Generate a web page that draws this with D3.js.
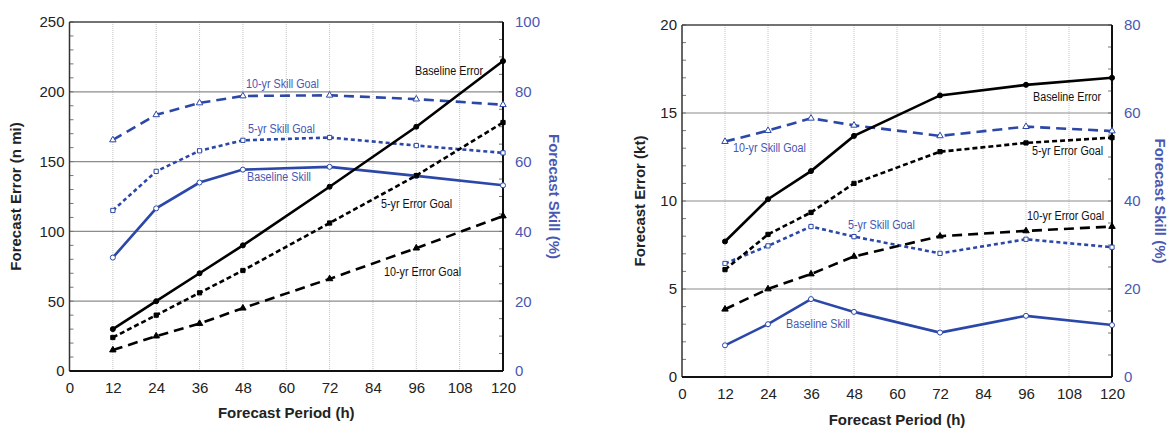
<!DOCTYPE html>
<html>
<head>
<meta charset="utf-8">
<script src="https://cdn.jsdelivr.net/npm/d3@7"></script>
<style>
  body { margin: 0; background: #fff; }
  text { font-family: Arial, "Liberation Sans", sans-serif; }
  .lbl { font-size: 12.5px; }
</style>
</head>
<body>
<svg id="chart" width="1169" height="428"></svg>
<script>
"use strict";
// forecast hours
const hours = [12, 24, 36, 48, 72, 96, 120];
const xTicks = [0, 12, 24, 36, 48, 60, 72, 84, 96, 108, 120];

// track (n mi) - left panel
const trkBaseErr = [30, 50, 70, 90, 132, 175, 222];
const trkErr5 = [24, 40, 56, 72, 106, 140, 178];
const trkErr10 = [15, 25, 34, 45, 66, 88, 111];
const trkBaseSkill = [32.5, 46.6, 54, 57.7, 58.5, 55.9, 53.2];
const trkSkill5 = [46, 57.2, 63.1, 66.1, 66.9, 64.6, 62.5];
const trkSkill10 = [66.2, 73.4, 76.8, 78.8, 79, 77.9, 76.3];

// intensity (kt) - right panel
const intBaseErr = [7.7, 10.1, 11.7, 13.7, 16.0, 16.6, 17.0];
const intErr5 = [6.1, 8.1, 9.35, 11.0, 12.8, 13.3, 13.6];
const intErr10 = [3.85, 5.0, 5.85, 6.85, 8.0, 8.3, 8.55];
const intBaseSkill = [7.2, 12.0, 17.7, 14.8, 10.1, 13.9, 11.8];
const intSkill5 = [25.8, 29.8, 34.2, 31.9, 28.1, 31.3, 29.5];
const intSkill10 = [53.5, 56.0, 58.8, 57.2, 54.8, 56.9, 55.9];

const BLUE = "#2b47a8";
const BLUE_TXT = "#4a57b3";
const svg = d3.select("#chart");

function panel(o) {
  const x = d3.scaleLinear().domain([0, 120]).range([o.x0, o.x1]);
  const yL = d3.scaleLinear().domain([0, o.maxL]).range([o.y1, o.y0]);
  const yR = d3.scaleLinear().domain([0, o.maxR]).range([o.y1, o.y0]);
  const g = svg.append("g");

  // vertical dotted grid
  g.selectAll(".vg").data(xTicks.slice(1, -1)).enter().append("line")
    .attr("x1", d => x(d)).attr("x2", d => x(d))
    .attr("y1", o.y0).attr("y2", o.y1)
    .attr("stroke", "#c4c4c4").attr("stroke-width", 1).attr("stroke-dasharray", "1,1");
  // horizontal grid
  g.selectAll(".hg").data(o.gridL).enter().append("line")
    .attr("x1", o.x0).attr("x2", o.x1)
    .attr("y1", d => yL(d)).attr("y2", d => yL(d))
    .attr("stroke", "#8c8c8c").attr("stroke-width", 1.2);

  // axes
  const axL = d3.axisLeft(yL).tickValues(o.ticksL).tickSize(0).tickPadding(5);
  const gl = g.append("g").attr("transform", `translate(${o.x0},0)`).call(axL);
  const axR = d3.axisRight(yR).tickValues(o.ticksR).tickSize(0).tickPadding(12);
  const gr = g.append("g").attr("transform", `translate(${o.x1},0)`).call(axR);
  const axB = d3.axisBottom(x).tickValues(xTicks).tickSize(0).tickPadding(11);
  const gb = g.append("g").attr("transform", `translate(0,${o.y1})`).call(axB);
  [gl, gr, gb].forEach(a => {
    a.select(".domain").remove();
    a.selectAll("text").attr("font-size", 15).attr("fill", "#222")
      .style("font-family", "Arial, 'Liberation Sans', sans-serif");
  });
  gr.selectAll("text").attr("fill", BLUE_TXT);

  // minor inside ticks
  g.selectAll(".ml").data(d3.range(0, o.maxL + 0.001, o.minorL)).enter().append("line")
    .attr("x1", o.x0).attr("x2", o.x0 + 4)
    .attr("y1", d => yL(d)).attr("y2", d => yL(d)).attr("stroke", "#777");
  g.selectAll(".mr").data(d3.range(0, o.maxR + 0.001, o.minorR)).enter().append("line")
    .attr("x1", o.x1).attr("x2", o.x1 - 4)
    .attr("y1", d => yR(d)).attr("y2", d => yR(d)).attr("stroke", "#777");

  // frame
  g.append("line").attr("x1", o.x0).attr("x2", o.x1).attr("y1", o.y0).attr("y2", o.y0)
    .attr("stroke", "#444").attr("stroke-width", 1.3);
  g.append("line").attr("x1", o.x0).attr("x2", o.x0).attr("y1", o.y0).attr("y2", o.y1)
    .attr("stroke", "#333").attr("stroke-width", 1.5);
  g.append("line").attr("x1", o.x0).attr("x2", o.x1).attr("y1", o.y1).attr("y2", o.y1)
    .attr("stroke", "#111").attr("stroke-width", 2);
  g.append("line").attr("x1", o.x1).attr("x2", o.x1).attr("y1", o.y0).attr("y2", o.y1)
    .attr("stroke", "#111").attr("stroke-width", 2);

  // series
  const series = [
    { v: o.skill10, y: yR, c: BLUE, dash: "10,6", m: "tri", fill: "#fff" },
    { v: o.skill5, y: yR, c: BLUE, dash: "4,3", m: "sq", fill: "#fff" },
    { v: o.baseSkill, y: yR, c: BLUE, dash: null, m: "circ", fill: "#fff" },
    { v: o.err10, y: yL, c: "#000", dash: "10,6", m: "tri", fill: "#000" },
    { v: o.err5, y: yL, c: "#000", dash: "5,3", m: "sq", fill: "#000" },
    { v: o.baseErr, y: yL, c: "#000", dash: null, m: "circ", fill: "#000" }
  ];
  series.forEach(s => {
    const line = d3.line().x((d, i) => x(hours[i])).y(d => s.y(d));
    g.append("path").datum(s.v).attr("d", line)
      .attr("fill", "none").attr("stroke", s.c).attr("stroke-width", 2.6)
      .attr("stroke-dasharray", s.dash);
    const sym = s.m === "tri" ? d3.symbolTriangle : s.m === "sq" ? d3.symbolSquare : d3.symbolCircle;
    g.selectAll(null).data(s.v).enter().append("path")
      .attr("d", d3.symbol().type(sym).size(s.m === "circ" ? 20 : 18))
      .attr("transform", (d, i) => `translate(${x(hours[i])},${s.y(d)})`)
      .attr("fill", s.fill).attr("stroke", s.c).attr("stroke-width", 1);
  });

  // series labels (condensed look)
  o.labels.forEach(l => {
    const t = g.append("text").attr("class", "lbl").attr("x", l.x).attr("y", l.y)
      .attr("fill", l.blue ? BLUE_TXT : "#111").text(l.t);
    const w = t.node().getComputedTextLength();
    t.attr("textLength", w * 0.86).attr("lengthAdjust", "spacingAndGlyphs");
  });

  // titles
  g.append("text").attr("transform", `translate(${o.tl},${(o.y0 + o.y1) / 2}) rotate(-90)`)
    .attr("text-anchor", "middle").attr("font-weight", "bold").attr("font-size", 15)
    .attr("fill", "#222").text(o.titleL);
  g.append("text").attr("transform", `translate(${o.tr},${(o.y0 + o.y1) / 2}) rotate(90)`)
    .attr("text-anchor", "middle").attr("font-weight", "bold").attr("font-size", 15)
    .attr("fill", BLUE_TXT).text("Forecast Skill (%)");
  g.append("text").attr("x", (o.x0 + o.x1) / 2).attr("y", o.tb)
    .attr("text-anchor", "middle").attr("font-weight", "bold").attr("font-size", 15)
    .attr("fill", "#222").text("Forecast Period (h)");
}

panel({
  x0: 69.5, x1: 503, y0: 22, y1: 371, maxL: 250, maxR: 100,
  ticksL: [0, 50, 100, 150, 200, 250], ticksR: [0, 20, 40, 60, 80, 100],
  gridL: [50, 100, 150, 200], minorL: 10, minorR: 5,
  baseErr: trkBaseErr, err5: trkErr5, err10: trkErr10,
  baseSkill: trkBaseSkill, skill5: trkSkill5, skill10: trkSkill10,
  titleL: "Forecast Error (n mi)", tl: 21, tr: 549, tb: 418,
  labels: [
    { t: "Baseline Error", x: 415, y: 75 },
    { t: "10-yr Skill Goal", x: 246, y: 88, blue: true },
    { t: "5-yr Skill Goal", x: 248, y: 133, blue: true },
    { t: "Baseline Skill", x: 247, y: 181, blue: true },
    { t: "5-yr Error Goal", x: 381, y: 208 },
    { t: "10-yr Error Goal", x: 384, y: 276 }
  ]
});

panel({
  x0: 682, x1: 1112, y0: 25, y1: 377, maxL: 20, maxR: 80,
  ticksL: [0, 5, 10, 15, 20], ticksR: [0, 20, 40, 60, 80],
  gridL: [5, 10, 15], minorL: 1, minorR: 5,
  baseErr: intBaseErr, err5: intErr5, err10: intErr10,
  baseSkill: intBaseSkill, skill5: intSkill5, skill10: intSkill10,
  titleL: "Forecast Error (kt)", tl: 645, tr: 1155, tb: 425,
  labels: [
    { t: "Baseline Error", x: 1033, y: 101 },
    { t: "10-yr Skill Goal", x: 733, y: 152, blue: true },
    { t: "5-yr Error Goal", x: 1032, y: 155 },
    { t: "10-yr Error Goal", x: 1027, y: 220 },
    { t: "5-yr Skill Goal", x: 848, y: 229, blue: true },
    { t: "Baseline Skill", x: 786, y: 328, blue: true }
  ]
});
</script>
</body>
</html>
